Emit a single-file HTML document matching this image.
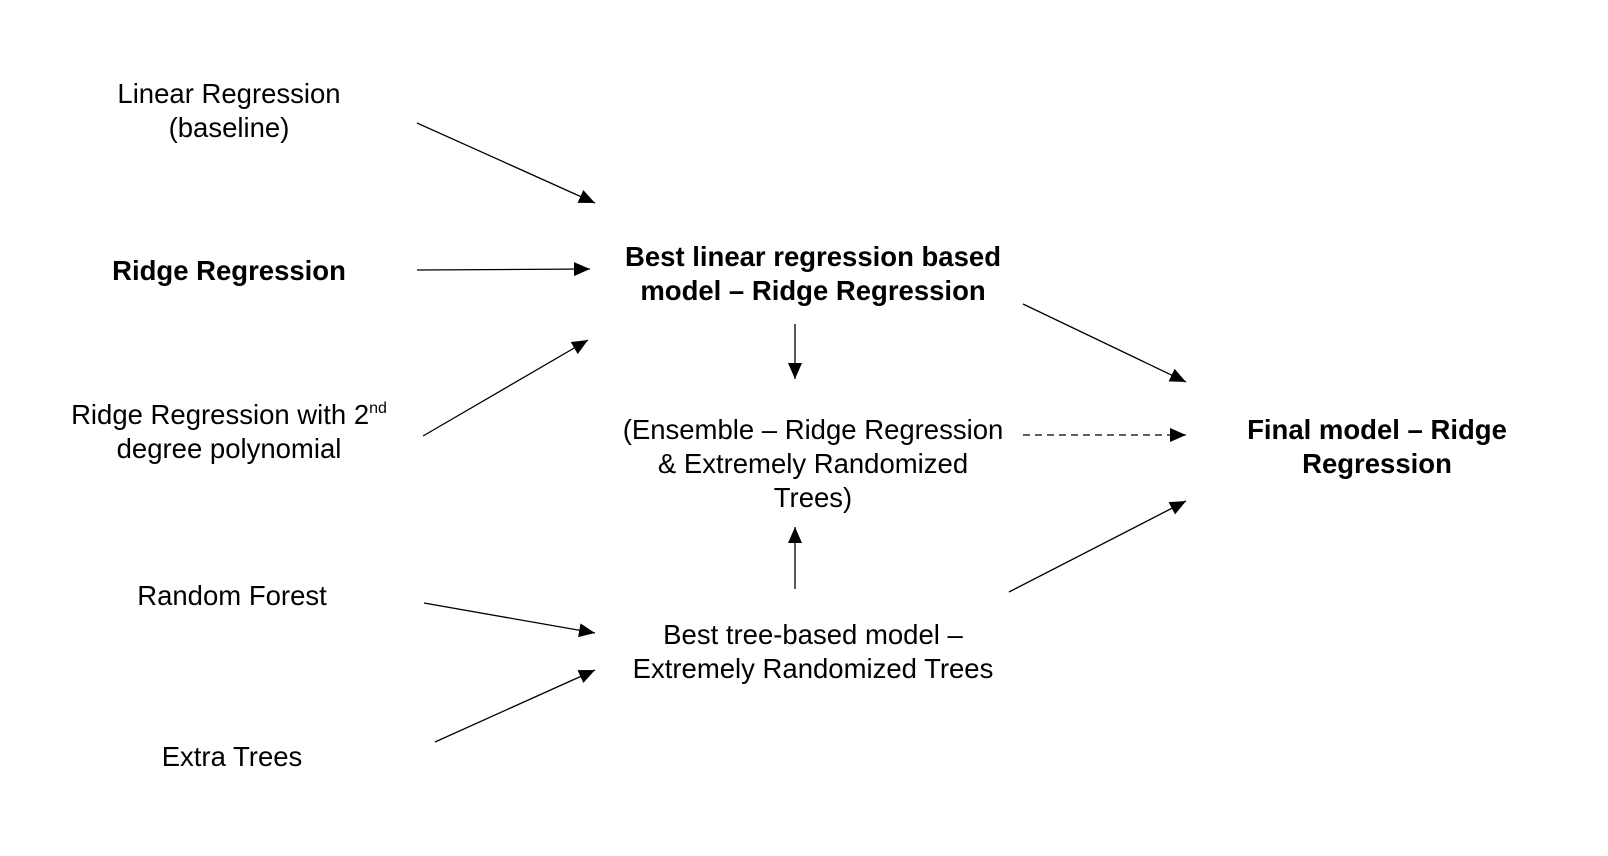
<!DOCTYPE html>
<html><head><meta charset="utf-8"><style>
html,body{margin:0;padding:0;background:#fff;}
body{width:1608px;height:856px;position:relative;overflow:hidden;font-family:"Liberation Sans",sans-serif;}
.t{position:absolute;transform:translateX(-50%);text-align:center;font-size:27.5px;line-height:34px;color:#000;white-space:nowrap;}
.b{font-weight:bold;}
sup{font-size:16px;line-height:0;vertical-align:11px;}
</style></head><body>
<svg width="1608" height="856" style="position:absolute;left:0;top:0">
<defs><marker id="h" markerWidth="16" markerHeight="14" refX="16" refY="7" orient="auto" markerUnits="userSpaceOnUse"><path d="M0,0 L16,7 L0,14 Z" fill="#000"/></marker></defs>
<g stroke="#000" stroke-width="1.3" fill="none" marker-end="url(#h)">
<line x1="417" y1="123" x2="595" y2="203"/>
<line x1="417" y1="270" x2="590" y2="269"/>
<line x1="423" y1="436" x2="588" y2="340"/>
<line x1="1023" y1="304" x2="1186" y2="382"/>
<line x1="795" y1="324" x2="795" y2="379"/>
<line x1="1023" y1="435" x2="1186" y2="435" stroke-dasharray="7,5"/>
<line x1="795" y1="589" x2="795" y2="527"/>
<line x1="1009" y1="592" x2="1186" y2="501"/>
<line x1="424" y1="603" x2="595" y2="633"/>
<line x1="435" y1="742" x2="595" y2="670"/>
</g></svg>
<div class="t" style="left:229px;top:77px">Linear Regression<br>(baseline)</div>
<div class="t b" style="left:229px;top:254px">Ridge Regression</div>
<div class="t" style="left:229px;top:398px">Ridge Regression with 2<sup>nd</sup><br>degree polynomial</div>
<div class="t" style="left:232px;top:579px">Random Forest</div>
<div class="t" style="left:232px;top:740px">Extra Trees</div>
<div class="t b" style="left:813px;top:240px">Best linear regression based<br>model – Ridge Regression</div>
<div class="t" style="left:813px;top:413px">(Ensemble – Ridge Regression<br>&amp; Extremely Randomized<br>Trees)</div>
<div class="t" style="left:813px;top:618px">Best tree-based model –<br>Extremely Randomized Trees</div>
<div class="t b" style="left:1377px;top:413px">Final model – Ridge<br>Regression</div>
</body></html>
